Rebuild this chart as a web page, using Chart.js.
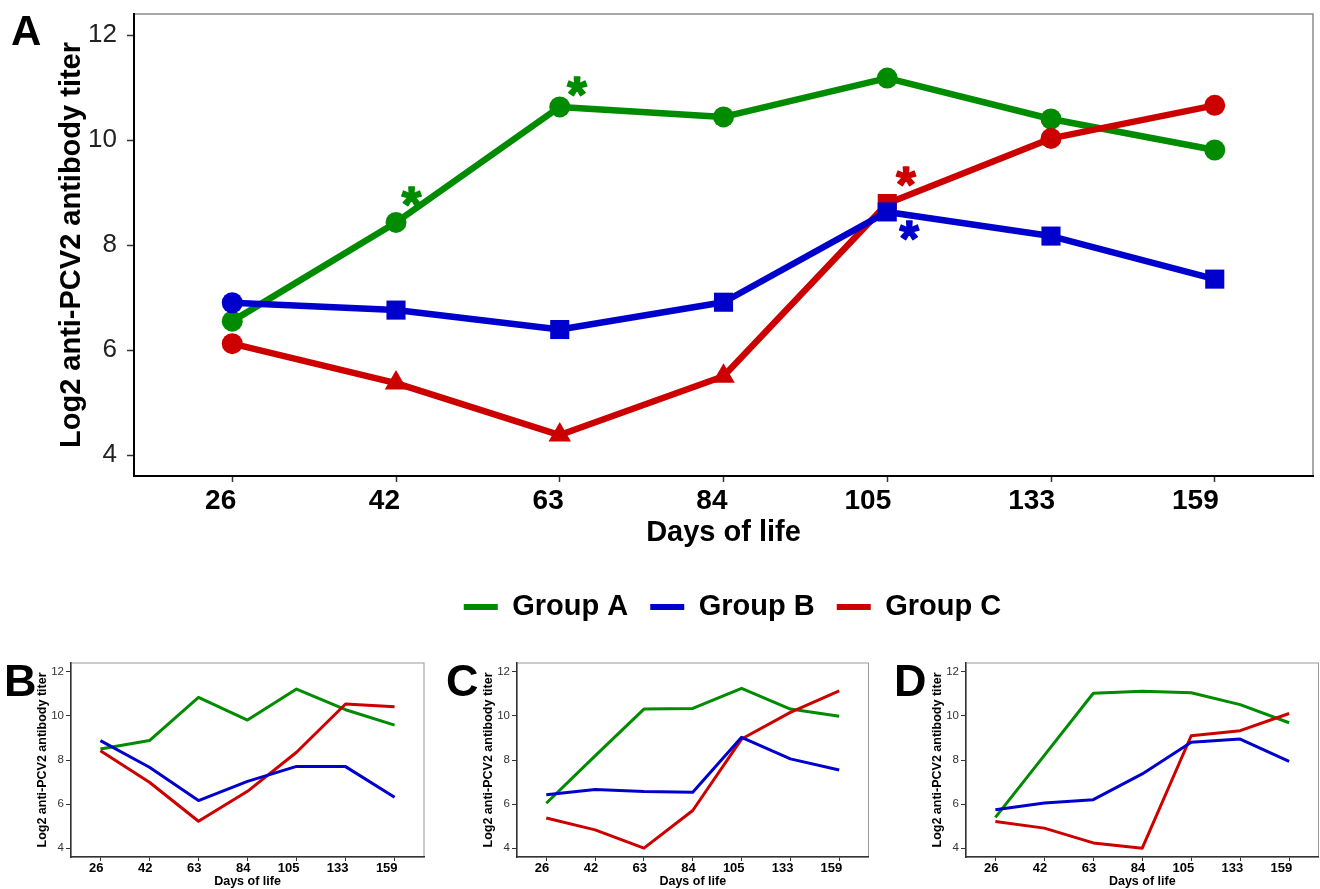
<!DOCTYPE html>
<html><head><meta charset="utf-8">
<script src="https://cdn.jsdelivr.net/npm/chart.js@4.4.0/dist/chart.umd.min.js"></script>
<style>
html,body{margin:0;padding:0;background:#fff;}
body{width:1320px;height:889px;position:relative;overflow:hidden;}
canvas{position:absolute;display:block;}
</style></head><body>
<canvas id="cA" width="1320" height="640" style="left:0;top:0;width:1320px;height:640px"></canvas>
<canvas id="cB" width="440" height="249" style="left:0;top:640px;width:440px;height:249px"></canvas>
<canvas id="cC" width="440" height="249" style="left:440px;top:640px;width:440px;height:249px"></canvas>
<canvas id="cD" width="440" height="249" style="left:880px;top:640px;width:440px;height:249px"></canvas>
<script>
// ---------- data ----------
const days = ['26', '42', '63', '84', '105', '133', '159'];
const yTicks = [4, 6, 8, 10, 12];
const groupNames = ['Group A', 'Group B', 'Group C'];
const groupColors = ['#008B00', '#0000CD', '#CD0000'];
const yTitle = 'Log2 anti-PCV2 antibody titer';
const xTitle = 'Days of life';

// Panel A (mean titers)
const panelA_groupA = [6.55, 8.43, 10.63, 10.44, 11.18, 10.40, 9.81];
const panelA_groupB = [6.90, 6.76, 6.39, 6.91, 8.63, 8.17, 7.35];
const panelA_groupC = [6.12, 5.37, 4.38, 5.50, 8.79, 10.03, 10.66];
const panelA_shapesA = ['circle', 'circle', 'circle', 'circle', 'circle', 'circle', 'circle'];
const panelA_shapesB = ['circle', 'rect', 'rect', 'rect', 'rect', 'rect', 'rect'];
const panelA_shapesC = ['circle', 'triangle', 'triangle', 'triangle', 'rect', 'circle', 'circle'];
// significance asterisks: group index, x (day index), y (titer)
const starGroup = [0, 0, 2, 1];
const starX = [1.09, 2.10, 4.11, 4.13];
const starY = [8.93, 11.02, 9.30, 8.28];

// Panel B
const panelB_groupA = [8.50, 8.88, 10.84, 9.81, 11.22, 10.28, 9.58];
const panelB_groupB = [8.88, 7.67, 6.16, 7.03, 7.71, 7.70, 6.31];
const panelB_groupC = [8.42, 6.99, 5.22, 6.58, 8.35, 10.54, 10.42];
// Panel C
const panelC_groupA = [6.04, 8.19, 10.31, 10.34, 11.25, 10.31, 9.98];
const panelC_groupB = [6.42, 6.66, 6.57, 6.54, 9.03, 8.05, 7.55];
const panelC_groupC = [5.37, 4.83, 4.00, 5.71, 8.95, 10.16, 11.14];
// Panel D
const panelD_groupA = [5.40, 8.21, 11.03, 11.12, 11.05, 10.51, 9.69];
const panelD_groupB = [5.74, 6.05, 6.20, 7.37, 8.80, 8.95, 7.94];
const panelD_groupC = [5.21, 4.91, 4.24, 4.00, 9.10, 9.33, 10.11];

// ---------- helpers ----------
const FONT = "'Liberation Sans', Arial, Helvetica, sans-serif";
Chart.defaults.font.family = FONT;
const toXY = arr => arr.map((v, i) => ({x: i, y: v}));
const shapeRadius = {circle: 10.5, rect: 13.5, triangle: 13};
const drawOrder = [2, 0, 1]; // blue on top, then red, green at bottom

const panelBox = {
  id: 'panelBox',
  beforeDraw(chart, args, o) {
    const {ctx, chartArea: a} = chart;
    ctx.save();
    ctx.strokeStyle = o.color; ctx.lineWidth = o.width;
    ctx.strokeRect(a.left, a.top, a.right - a.left, a.bottom - a.top);
    ctx.restore();
  }
};
const panelLetter = {
  id: 'panelLetter',
  afterDraw(chart, args, o) {
    const ctx = chart.ctx;
    ctx.save();
    ctx.font = `bold ${o.size}px ${FONT}`;
    ctx.fillStyle = '#000'; ctx.textAlign = 'left'; ctx.textBaseline = 'alphabetic';
    ctx.fillText(o.text, o.x, o.y);
    ctx.restore();
  }
};
const legendShift = {
  id: 'legendShift',
  afterLayout(chart, args, o) {
    if (chart.legend && o.dx) { chart.legend.left += o.dx; chart.legend.right += o.dx; }
  }
};
const starPlugin = {
  id: 'stars',
  afterDatasetsDraw(chart, args, o) {
    if (!o.xs) return;
    const {ctx} = chart; const xs = chart.scales.x, ys = chart.scales.y;
    ctx.save();
    ctx.font = `bold 100px ${FONT}`;
    const m0 = ctx.measureText('*');
    const h0 = m0.actualBoundingBoxAscent + m0.actualBoundingBoxDescent;
    const size = 100 * o.height / h0;
    ctx.font = `bold ${size}px ${FONT}`;
    const m = ctx.measureText('*');
    const shift = (m.actualBoundingBoxAscent - m.actualBoundingBoxDescent) / 2;
    const cx = (m.actualBoundingBoxRight - m.actualBoundingBoxLeft) / 2;
    ctx.textAlign = 'left'; ctx.textBaseline = 'alphabetic';
    ctx.lineWidth = 1.6; ctx.lineJoin = 'round';
    o.xs.forEach((xv, i) => {
      ctx.fillStyle = groupColors[o.groups[i]];
      ctx.strokeStyle = groupColors[o.groups[i]];
      const px = xs.getPixelForValue(xv) - cx + o.dx, py = ys.getPixelForValue(o.ys[i]) + shift + o.dy;
      ctx.fillText('*', px, py);
      ctx.strokeText('*', px, py);
    });
    ctx.restore();
  }
};

function xScale(s) {
  return {
    type: 'linear', min: -0.6, max: 6.6,
    afterBuildTicks: sc => { sc.ticks = days.map((d, i) => ({value: i})); },
    ticks: {callback: v => days[v], align: 'end', labelOffset: s.labelOffset, padding: s.tickPad,
      font: {size: s.xTick, weight: 'bold'}, color: '#000', autoSkip: false, maxRotation: 0},
    grid: {drawOnChartArea: false, drawTicks: true, tickLength: s.xTickLen, tickWidth: s.tickW, tickColor: '#333'},
    border: {display: true, color: s.axisColor, width: s.axisW},
    title: {display: true, text: xTitle, font: {size: s.title, weight: 'bold'}, color: '#000',
      padding: {top: 0, bottom: s.xTitlePad}},
    afterFit: sc => { sc.height = s.xHeight; sc.paddingLeft = 0; sc.paddingRight = 0; }
  };
}
function yScale(s) {
  return {
    min: 3.6, max: 12.4,
    afterBuildTicks: sc => { sc.ticks = yTicks.map(v => ({value: v})); },
    ticks: {font: {size: s.yTick}, color: s.yTickColor, padding: s.yTickPad},
    grid: {drawOnChartArea: false, drawTicks: true, tickLength: s.yTickLen, tickWidth: s.tickW, tickColor: '#333'},
    border: {display: true, color: s.axisColor, width: s.axisW},
    title: {display: true, text: yTitle, font: {size: s.title, weight: 'bold'}, color: '#000',
      padding: {top: s.yTitlePad, bottom: 0}},
    afterFit: sc => { sc.width = s.yWidth; sc.paddingTop = 0; sc.paddingBottom = 0; }
  };
}

// ---------- main panel A ----------
const mainSeries = [panelA_groupA, panelA_groupB, panelA_groupC];
const mainShapes = [panelA_shapesA, panelA_shapesB, panelA_shapesC];
const mainStyle = {labelOffset: 4, tickPad: 2, xTick: 28, xTickLen: 6, tickW: 1.5, axisColor: '#000', axisW: 2,
  title: 29, xTitlePad: 20, xHeight: 94.5, yTick: 26, yTickColor: '#222', yTickPad: 10, yTickLen: 7,
  yTitlePad: 55, yWidth: 134};

new Chart(document.getElementById('cA'), {
  type: 'line',
  data: {
    datasets: mainSeries.map((vals, g) => ({
      label: groupNames[g], data: toXY(vals),
      borderColor: groupColors[g], backgroundColor: groupColors[g],
      borderWidth: 6.5, tension: 0, borderJoinStyle: 'round', borderCapStyle: 'butt',
      pointStyle: mainShapes[g], pointRadius: mainShapes[g].map(s => shapeRadius[s]),
      pointBorderWidth: 0, pointBackgroundColor: groupColors[g], order: drawOrder[g]
    }))
  },
  options: {
    responsive: false, animation: false, devicePixelRatio: 1,
    layout: {autoPadding: false, padding: {top: 14, right: 7, bottom: 8.5, left: 0}},
    scales: {x: xScale(mainStyle), y: yScale(mainStyle)},
    plugins: {
      tooltip: {enabled: false},
      legend: {
        position: 'bottom', fullSize: false,
        labels: {
          font: {size: 29, weight: 'bold'}, color: '#000', boxWidth: 34, boxHeight: 6, padding: 22,
          generateLabels: ch => Chart.defaults.plugins.legend.labels.generateLabels(ch)
            .map(l => Object.assign(l, {lineWidth: 0, fillStyle: l.strokeStyle})),
          sort: (a, b) => a.datasetIndex - b.datasetIndex
        }
      },
      legendShift: {dx: 9},
      panelBox: {color: '#8c8c8c', width: 1.5},
      panelLetter: {text: 'A', x: 11, y: 45, size: 42},
      stars: {xs: starX, ys: starY, groups: starGroup, height: 19, dx: 1, dy: 14}
    }
  },
  plugins: [panelBox, panelLetter, starPlugin, legendShift]
});

// ---------- small panels ----------
function small(id, series, letter, yWidth, padRight) {
  const st = {labelOffset: 3, tickPad: 0, xTick: 13, xTickLen: 4, tickW: 1, axisColor: '#333', axisW: 1.5,
    title: 12.5, xTitlePad: 0, xHeight: 32, yTick: 11.5, yTickColor: '#333', yTickPad: 2, yTickLen: 5,
    yTitlePad: yWidth - 28.5 - 7.5, yWidth: yWidth};
  new Chart(document.getElementById(id), {
    type: 'line',
    data: {
      datasets: series.map((vals, g) => ({
        label: groupNames[g], data: toXY(vals), borderColor: groupColors[g], backgroundColor: groupColors[g],
        borderWidth: 3, tension: 0, pointRadius: 0, borderJoinStyle: 'round', order: drawOrder[g]
      }))
    },
    options: {
      responsive: false, animation: false, devicePixelRatio: 1,
      layout: {autoPadding: false, padding: {top: 23, right: padRight, bottom: 0, left: 0}},
      scales: {x: xScale(st), y: yScale(st)},
      plugins: {
        tooltip: {enabled: false}, legend: {display: false},
        panelBox: {color: '#999', width: 1},
        panelLetter: letter
      }
    },
    plugins: [panelBox, panelLetter]
  });
}
small('cB', [panelB_groupA, panelB_groupB, panelB_groupC], {text: 'B', x: 4, y: 56, size: 45}, 71, 16);
small('cC', [panelC_groupA, panelC_groupB, panelC_groupC], {text: 'C', x: 6, y: 56, size: 45}, 77, 11.5);
small('cD', [panelD_groupA, panelD_groupB, panelD_groupC], {text: 'D', x: 14, y: 56, size: 45}, 86, 1.5);
</script>
</body></html>
